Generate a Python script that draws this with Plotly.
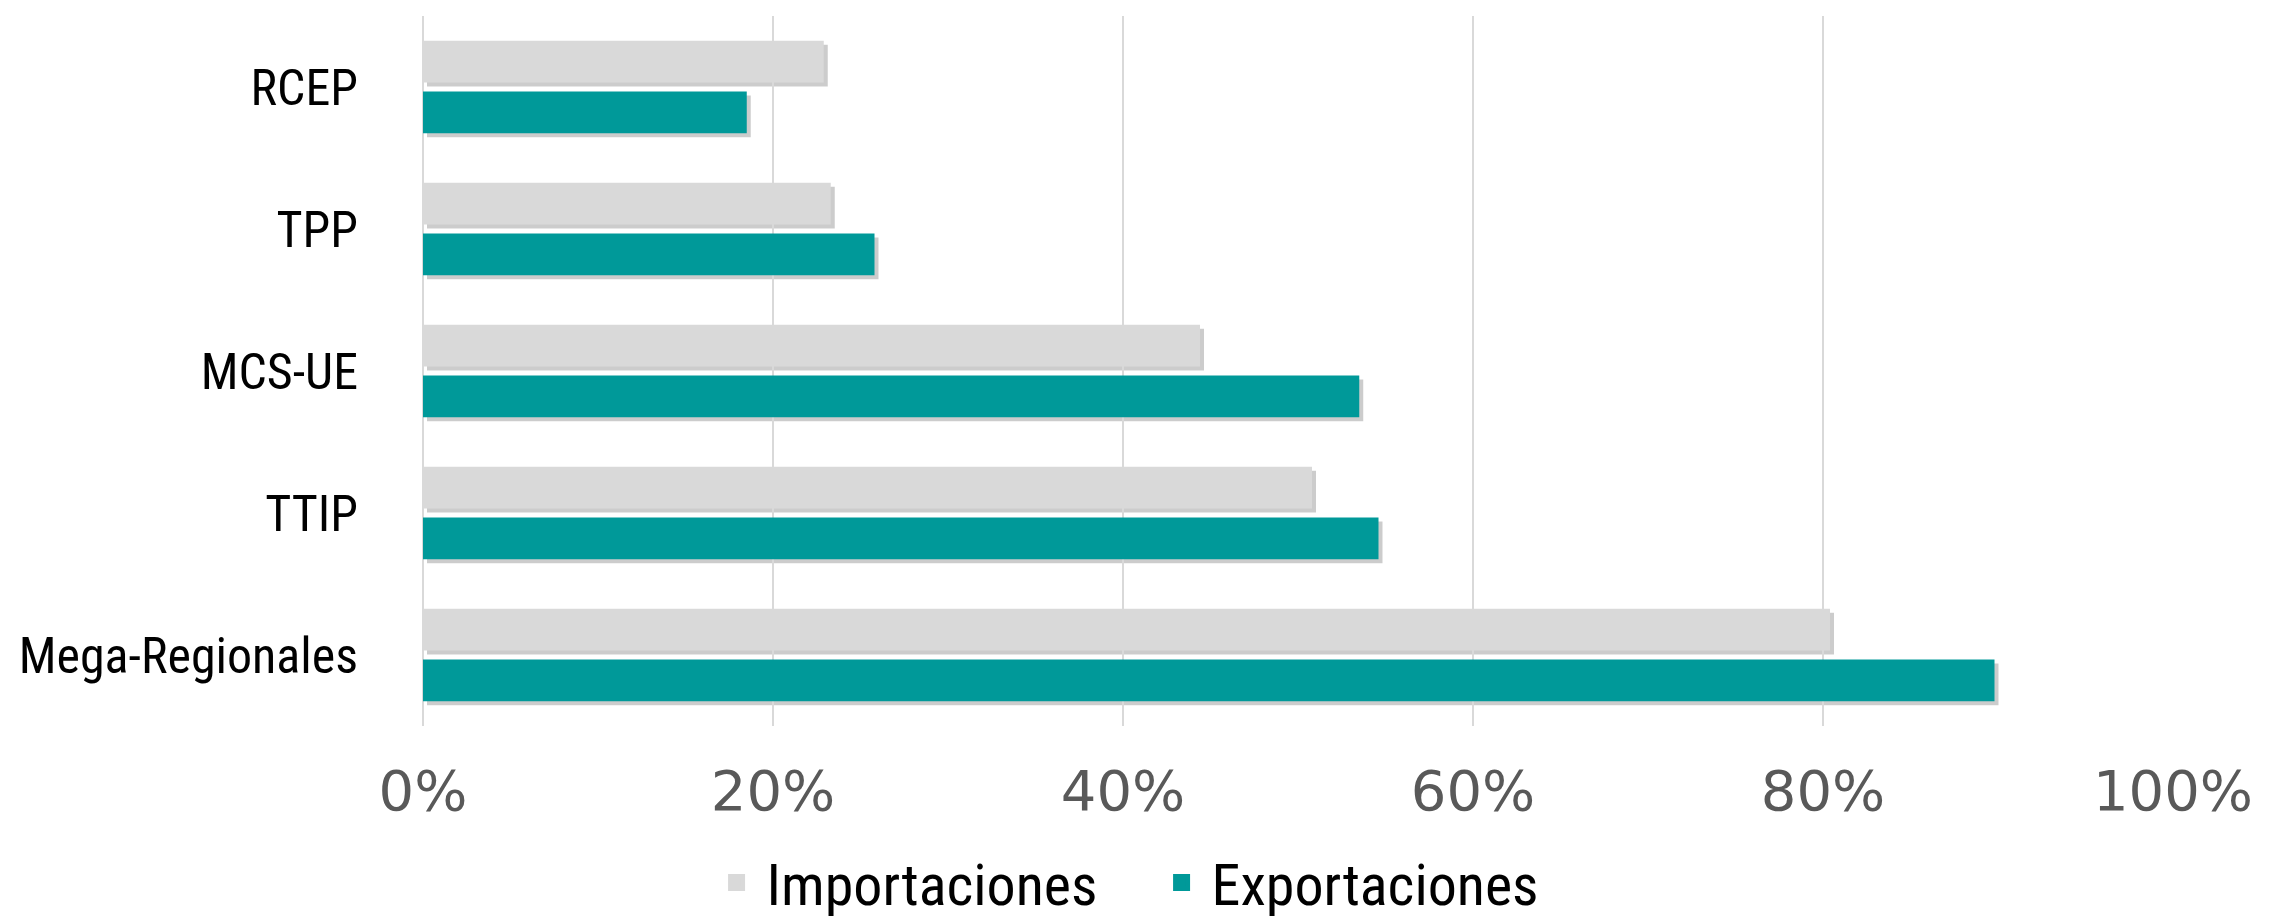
import plotly.graph_objects as go

categories = ["RCEP", "TPP", "MCS-UE", "TTIP", "Mega-Regionales"]
importaciones = [0.229, 0.233, 0.444, 0.508, 0.804]
exportaciones = [0.185, 0.258, 0.535, 0.546, 0.898]
tick_vals = [0, 0.2, 0.4, 0.6, 0.8, 1.0]
tick_text = ["0%", "20%", "40%", "60%", "80%", "100%"]
series_names = ["Importaciones", "Exportaciones"]

W, H = 2269, 916
ML, MR, MT, MB = 415, 100, 8, 194
PW = W - ML - MR
PH = H - MT - MB
SH = 4  # shadow offset px

GRAY = "#d9d9d9"
TEAL = "#009999"
COLORS = [GRAY, TEAL]
NARROW = "Roboto Condensed, Liberation Sans Narrow, DejaVu Sans Condensed, sans-serif"

fig = go.Figure()

# soft drop shadows (first subplot, drawn beneath the bars)
for vals in (importaciones, exportaciones):
    fig.add_trace(go.Bar(
        y=categories, x=vals, orientation="h",
        marker=dict(color="rgba(0,0,0,0.20)", line=dict(width=0)),
        xaxis="x", yaxis="y", showlegend=False, hoverinfo="skip",
    ))

# main bars
for name, vals, col in zip(series_names, (importaciones, exportaciones), COLORS):
    fig.add_trace(go.Bar(
        name=name, y=categories, x=vals, orientation="h",
        marker=dict(color=col, line=dict(width=0)), xaxis="x2", yaxis="y2",
        showlegend=False,
    ))

# legend entries (larger swatches)
for name, col in zip(series_names, COLORS):
    fig.add_trace(go.Bar(
        name=name, y=[None], x=[None], orientation="h",
        marker=dict(color=col, line=dict(width=5, color=col)),
        xaxis="x3", yaxis="y3", showlegend=True, hoverinfo="skip",
    ))

fig.update_layout(
    width=W, height=H,
    margin=dict(l=ML, r=MR, t=MT, b=MB, autoexpand=False),
    paper_bgcolor="white", plot_bgcolor="rgba(0,0,0,0)",
    barmode="group", bargap=0.286, bargroupgap=0.176,
    xaxis=dict(domain=[SH / PW, 1], range=[0, 1], visible=False, showgrid=False),
    yaxis=dict(domain=[0, 1 - SH / PH], categoryorder="array", categoryarray=categories,
               autorange="reversed", visible=False, showgrid=False),
    xaxis2=dict(domain=[0, 1 - SH / PW], range=[0, 1], anchor="y2",
                tickvals=tick_vals, ticktext=tick_text, automargin=False,
                showgrid=True, gridcolor="#d9d9d9", gridwidth=2,
                zeroline=True, zerolinecolor="#d9d9d9", zerolinewidth=2,
                showline=False, ticks="",
                ticklabelstandoff=27,
                tickfont=dict(family="DejaVu Sans, Verdana, sans-serif", size=56, color="#595959")),
    yaxis2=dict(domain=[SH / PH, 1], anchor="x2", categoryorder="array", categoryarray=categories,
                autorange="reversed", showgrid=False, zeroline=False, showline=False, ticks="",
                automargin=False, ticklabelstandoff=64,
                tickfont=dict(family=NARROW, size=50, color="black")),
    xaxis3=dict(domain=[0, 0.01], visible=False, anchor="y3"),
    yaxis3=dict(domain=[0, 0.01], visible=False, anchor="x3"),
    legend=dict(orientation="h", xref="container", yref="paper",
                x=0.504, xanchor="center", y=-0.214, yanchor="middle",
                font=dict(family=NARROW, size=58, color="black"),
                itemwidth=50, entrywidth=380),
    showlegend=True,
)

fig.write_html("out.html")
